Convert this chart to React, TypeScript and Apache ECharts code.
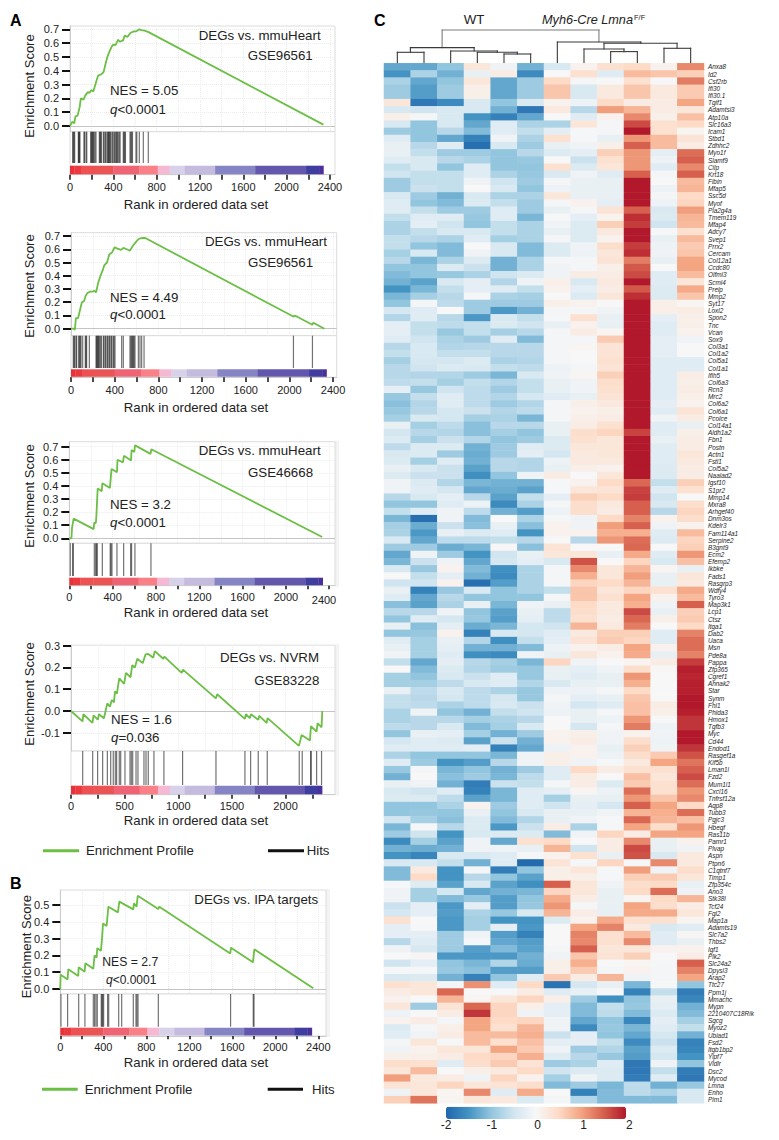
import React, { useEffect, useRef } from "react";
import * as echarts from "echarts";

const FONT = '"Liberation Sans", Arial, sans-serif';
const INK = "#222222";

// ---------- GSEA data ----------
const curveA1 = [[0,0],[20,0.03],[40,0.02],[50,0.07],[70,0.075],[90,0.14],[100,0.2],[125,0.19],[140,0.22],[165,0.245],[180,0.24],[195,0.26],[215,0.25],[230,0.29],[245,0.33],[260,0.365],[290,0.375],[310,0.39],[325,0.44],[345,0.5],[365,0.54],[385,0.575],[400,0.59],[420,0.585],[445,0.625],[460,0.61],[490,0.62],[505,0.655],[530,0.645],[560,0.675],[590,0.685],[610,0.685],[640,0.7],[660,0.695],[690,0.69],[725,0.68],[2340,0.01]];
const hitsA1 = [25,30,37,43,77,82,86,92,129,134,148,155,191,197,203,209,215,222,231,240,271,277,283,290,308,315,326,333,345,352,357,363,369,376,388,395,406,413,422,430,437,445,455,463,492,498,505,512,554,561,569,577,609,617,640,677,723];
const curveA2 = [[0,0],[25,0],[35,-0.01],[45,0.08],[65,0.08],[85,0.15],[100,0.2],[120,0.21],[135,0.25],[150,0.27],[175,0.28],[195,0.28],[215,0.285],[230,0.275],[250,0.35],[270,0.4],[290,0.44],[305,0.48],[330,0.5],[350,0.56],[375,0.575],[400,0.615],[425,0.605],[460,0.595],[480,0.61],[510,0.6],[540,0.59],[565,0.625],[590,0.65],[610,0.67],[625,0.68],[650,0.685],[680,0.685],[2040,0.09],[2050,0.1],[2210,0.03],[2220,0.045],[2320,0]];
const hitsA2 = [21,28,34,46,52,70,78,85,92,107,131,137,143,168,229,235,241,247,253,260,272,278,296,302,314,320,333,339,351,357,369,375,388,395,403,464,479,540,548,556,563,571,578,586,617,632,647,669,2037,2211];
const curveA3 = [[0,0],[20,0],[25,0.08],[40,0.15],[225,0.07],[230,0.12],[245,0.115],[250,0.17],[262,0.38],[300,0.36],[305,0.42],[375,0.385],[390,0.53],[440,0.505],[445,0.6],[495,0.58],[505,0.63],[570,0.595],[575,0.675],[600,0.66],[607,0.71],[750,0.645],[757,0.68],[2335,0.01]];
const hitsA3 = [9,31,37,231,243,252,258,305,378,385,394,440,502,566,575,606,754];
const curveA4 = [[0,0],[108,-0.048],[115,-0.015],[200,-0.055],[210,-0.02],[250,-0.04],[260,-0.015],[307,-0.033],[338,0.035],[363,0.02],[380,0.05],[400,0.04],[410,0.09],[428,0.08],[440,0.12],[450,0.15],[495,0.125],[512,0.175],[555,0.155],[570,0.21],[595,0.2],[618,0.24],[668,0.22],[695,0.26],[720,0.262],[767,0.245],[780,0.275],[860,0.24],[870,0.25],[1031,0.175],[1043,0.19],[1350,0.058],[1363,0.077],[1620,-0.036],[1630,-0.015],[1667,-0.033],[1677,-0.015],[1745,-0.04],[1755,-0.022],[1823,-0.055],[1832,-0.033],[2124,-0.16],[2133,-0.143],[2149,-0.11],[2227,-0.135],[2236,-0.07],[2289,-0.095],[2298,-0.056],[2335,-0.075],[2342,0]];
const hitsA4 = [109,202,248,295,339,370,394,413,425,450,463,503,550,562,575,606,624,680,699,720,773,866,1040,1351,1621,1674,1745,1829,2127,2155,2233,2239,2289,2335];
const curveB = [[0,0],[3,0.085],[68,0.057],[74,0.117],[167,0.077],[171,0.129],[226,0.103],[233,0.153],[307,0.12],[313,0.163],[319,0.2],[338,0.187],[344,0.243],[378,0.228],[388,0.3],[397,0.39],[431,0.375],[447,0.49],[536,0.456],[549,0.52],[679,0.474],[685,0.51],[710,0.49],[720,0.555],[911,0.476],[921,0.49],[1581,0.212],[1588,0.246],[1792,0.159],[1805,0.236],[2353,0.004]];
const hitsB = [6,68,171,229,307,319,332,344,381,388,394,403,440,450,543,571,679,704,713,723,912,1584,1795,1802];

const bandRanks = [[0,40],[40,100],[100,220],[220,400],[400,640],[640,810],[810,920],[920,1060],[1060,1340],[1340,1710],[1710,2180],[2180,2300],[2300,2340]];
const bandColors = ["#e8323a","#ea3a40","#ee5153","#ea5454","#ee6474","#f88086","#f6b9d3","#d7d2ea","#c5bbdf","#8585c5","#6357ad","#3f3da0","#4c309a"];

const ticks7 = [0,0.1,0.2,0.3,0.4,0.5,0.6,0.7];
const ticks4 = [-0.1,0,0.1,0.2,0.3];
const ticks5 = [0,0.1,0.2,0.3,0.4,0.5];
const xTicks400 = [0,200,400,600,800,1000,1200,1400,1600,1800,2000,2200,2400];
const xLabels400 = [0,400,800,1200,1600,2000,2400];
const xTicks250 = [0,250,500,750,1000,1250,1500,1750,2000,2250];
const xLabels500 = [0,500,1000,1500,2000];

interface Panel {
  curve: number[][]; hits: number[]; yTicks: number[]; xTicks: number[]; xLabels: number[];
  x0: number; pxPerRank: number; right: number; top: number; zeroY: number; pxPerUnit: number;
  bottom: number; hitEnd: number; bandTop: number; axisY: number;
  labelY: number; titleY: number; yTitleX: number; yTitleY: number; titleX: number;
  texts: { t: string; x: number; y: number; rich?: boolean; s?: number }[];
  extra2400?: number[]; strip?: boolean;
}

const panels: Panel[] = [
  { curve: curveA1, hits: hitsA1, yTicks: ticks7, xTicks: xTicks400, xLabels: xLabels400,
    x0: 70, pxPerRank: 0.1083, right: 335, top: 26, zeroY: 126, pxPerUnit: 138.1, bottom: 131.7, hitEnd: 163, bandTop: 165.7, axisY: 174.7,
    labelY: 187.7, titleY: 204, yTitleX: 29, yTitleY: 86, titleX: 196,
    texts: [{ t: "DEGs vs. mmuHeart", x: 198.7, y: 35 }, { t: "GSE96561", x: 247.7, y: 55 }, { t: "NES = 5.05", x: 110, y: 90.7 }, { t: "{i|q}{n|<0.0001}", x: 110, y: 109.3, rich: true }] },
  { curve: curveA2, hits: hitsA2, yTicks: ticks7, xTicks: xTicks400, xLabels: xLabels400,
    x0: 71, pxPerRank: 0.1092, right: 336.7, top: 232.7, zeroY: 328.7, pxPerUnit: 132.4, bottom: 335.7, hitEnd: 368, bandTop: 369.3, axisY: 377.2,
    labelY: 390, titleY: 407, yTitleX: 29, yTitleY: 286, titleX: 196,
    texts: [{ t: "DEGs vs. mmuHeart", x: 205, y: 241.7 }, { t: "GSE96561", x: 248, y: 262.7 }, { t: "NES = 4.49", x: 110, y: 297.3 }, { t: "{i|q}{n|<0.0001}", x: 110, y: 314.3, rich: true }] },
  { curve: curveA3, hits: hitsA3, yTicks: ticks7, xTicks: xTicks400, xLabels: [0,400,800,1200,1600,2000], extra2400: [324, 600],
    x0: 69.3, pxPerRank: 0.1083, right: 335, top: 441.7, zeroY: 538.3, pxPerUnit: 130.9, bottom: 543.3, hitEnd: 576, bandTop: 577.7, axisY: 585.7,
    labelY: 597.3, titleY: 612.7, yTitleX: 29, yTitleY: 496, titleX: 196, strip: true,
    texts: [{ t: "DEGs vs. mmuHeart", x: 198.7, y: 450.7 }, { t: "GSE46668", x: 248, y: 472 }, { t: "NES = 3.2", x: 110, y: 504.7 }, { t: "{i|q}{n|<0.0001}", x: 110, y: 522.3, rich: true }] },
  { curve: curveA4, hits: hitsA4, yTicks: ticks4, xTicks: xTicks250, xLabels: xLabels500,
    x0: 71, pxPerRank: 0.1073, right: 335, top: 645.2, zeroY: 711, pxPerUnit: 217.7, bottom: 751, hitEnd: 785, bandTop: 785.7, axisY: 794.7,
    labelY: 806.7, titleY: 820, yTitleX: 29, yTitleY: 694, titleX: 196, strip: true,
    texts: [{ t: "DEGs vs. NVRM", x: 220, y: 657.7 }, { t: "GSE83228", x: 254.3, y: 680.7 }, { t: "NES = 1.6", x: 111, y: 719.3 }, { t: "{i|q}{n|=0.036}", x: 111, y: 737.3, rich: true }] },
  { curve: curveB, hits: hitsB, yTicks: ticks5, xTicks: xTicks400, xLabels: xLabels400,
    x0: 60.3, pxPerRank: 0.1075, right: 326, top: 890, zeroY: 989, pxPerUnit: 168, bottom: 994, hitEnd: 1026.7, bandTop: 1027.7, axisY: 1036,
    labelY: 1047.3, titleY: 1062.3, yTitleX: 26.7, yTitleY: 946.7, titleX: 196, strip: true,
    texts: [{ t: "DEGs vs. IPA targets", x: 194.3, y: 899.3 }, { t: "NES = 2.7", x: 102.3, y: 962, s: 12.2 }, { t: "{i|q}{n|<0.0001}", x: 106, y: 980, rich: true, s: 12 }] },
];

// ---------- Heatmap data ----------
const geneLabels = ["Anxa8","Id2","Csf2rb","Ifi30","Ifi30.1","Tgif1","Adamtsl3","Atp10a","Slc16a3","Icam1","Stbd1","Zdhhc2","Myo1f","Slamf9","Cilp","Krt18","Fibin","Mfap5","Ssc5d","Myof","Pla2g4a","Tmem119","Mfap4","Adcy7","Svep1","Prrx2","Cercam","Col12a1","Ccdc80","Olfml3","Scml4","Prelp","Mmp2","Syt17","Loxl2","Spon2","Tnc","Vcan","Sox9","Col3a1","Col1a2","Col5a1","Col1a1","Ifih5","Col6a3","Rcn3","Mrc2","Col6a2","Col6a1","Pcolce","Col14a1","Aldh1a2","Fbn1","Postn","Actn1","Fstl1","Col5a2","Naalad2","Igsf10","S1pr2","Mmp14","Mxra8","Arhgef40","Dnm3os","Kdelr3","Fam114a1","Serpine2","B3gnt9","Ecm2","Efemp2","Ikbke","Fads1","Rasgrp3","Wdfy4","Tyro3","Map3k1","Lcp1","Ctsz","Itga1","Dab2","Uaca","Msn","Pde8a","Pappa","Zfp365","Cgref1","Ahnak2","Star","Synm","Fhl1","Phlda3","Hmox1","Tgfb3","Myc","Cd44","Endod1","Rasgef1a","Kif5b","Lman1l","Fzd2","Mum1l1","Cxcl16","Tnfrsf12a","Aqp8","Tubb3","Pgjc3","Hbegf","Ras11b","Pamr1","Plvap","Aspn","Ptpn6","C1qtnf7","Timp1","Zfp354c","Ano3","Stk38l","Tcf24","Fgl2","Map1a","Adamts19","Slc7a2","Thbs2","Igf1","Plk2","Slc24a2","Dpysl3","Arap2","Ttc27","Ppm1j","Mmachc","Mypn","2210407C18Rik","Sgcg","Myoz2","Ubiad1","Fsd2","Itgb1bp2","Yipf7","Vldlr","Dsc2","Mycod","Lmna","Enho","Pim1"];
const sampleLabels = ["WT1","WT2","WT3","WT4","WT5","WT6","KO1","KO2","KO3","KO4","KO5","KO6"];
const heatRows = [
[-1.3,-1.3,-1,0.3,-0.1,-1.2,-0.4,0.1,0.4,0.5,0.1,1.2],
[-1.5,-0.8,-1.2,-0.2,0.2,-1.6,0,0.4,-0.3,0.8,0.7,0.6],
[-0.8,-1.3,-1,0.3,-1.3,-0.9,0.5,-0.05,0,0.4,0,1.3],
[-0.9,-1.4,-0.9,0.15,-1.3,-0.9,0.7,-0.4,0.25,0.7,0.25,0.65],
[-0.9,-1.4,-0.9,0.15,-1.3,-0.9,0.7,-0.4,0.25,0.7,0.25,0.65],
[0.3,-1.8,-1.6,-0.4,-1,-0.4,0.1,-0.15,0.5,0.2,0.2,1],
[-0.4,-0.5,-0.4,-0.4,-1.2,-1.8,0.25,-0.7,1.05,0.85,0.2,0.3],
[0.15,-0.05,-0.4,-1.5,-1.7,-1.3,0,-0.3,0.1,1.2,0.15,0.75],
[-0.4,-1,-0.4,-1.3,-0.3,-0.8,-0.8,0.3,-0.05,1.65,0.4,0.5],
[-0.9,-1,-0.7,-1.1,-0.3,-0.6,-0.25,-0.02,-0.05,2,0.4,0.05],
[-0.3,-1,-1.3,-1.7,-0.1,-0.8,0.4,-0.02,-0.2,1.1,0.8,0.35],
[-0.2,-0.7,-0.3,-1.9,-0.4,-0.9,-0.2,-0.1,0.15,1.5,0.8,0.2],
[-0.2,-0.6,-0.9,-0.9,-1,-0.7,-0.35,-0.25,0.6,1.1,-0.25,1.4],
[-0.3,-0.4,-0.7,-0.8,-1,-0.95,0,-0.55,0.4,1.1,-0.15,1.5],
[-0.6,-0.4,-1,-0.3,-1,-1,0.4,-0.35,0.3,1.1,-0.3,1.2],
[-0.5,-0.6,-0.6,-0.3,-0.8,-0.95,-0.4,-0.1,-0.3,1.5,-0.05,1.5],
[-0.9,-0.6,-0.6,-0.1,-0.5,-0.9,-0.05,-0.2,-0.2,2,0,0.8],
[-0.9,-0.55,-0.6,0,-0.4,-1,-0.15,-0.2,-0.2,2,-0.15,0.85],
[-0.4,-0.9,-1.2,-0.4,-0.8,-0.8,0.3,-0.2,-0.2,2,-0.05,0.5],
[-0.3,-1,-1.1,-0.35,-0.6,-0.9,-0.05,0.1,-0.25,2,-0.15,0.55],
[-0.3,-0.6,-0.9,-0.9,-0.3,-0.9,-0.2,-0.05,0.35,1.5,-0.4,1.05],
[-0.6,-0.3,-0.3,-0.95,-0.3,-1.15,-0.02,-0.25,0.08,1.85,-0.35,0.85],
[-0.8,-0.25,-0.5,-1,-0.6,-0.8,-0.1,-0.35,0.6,1.75,-0.5,0.8],
[-0.8,-0.6,-0.4,-0.4,-0.6,-0.8,-0.2,-0.35,0.25,2,-0.02,0.4],
[-0.6,-0.7,-0.8,-0.3,-0.85,-0.8,-0.05,-0.35,0.1,2,-0.2,0.8],
[-0.6,-1,-1.1,0,-0.4,-1.1,-0.35,-0.1,0.45,1.75,-0.15,0.65],
[-0.85,-0.4,-1.1,-0.1,-0.4,-1.1,-0.35,-0.15,0.3,1.85,-0.1,0.7],
[-0.7,-1.15,-0.8,-0.35,-1.2,-0.8,-0.05,-0.05,0.35,1.3,-0.2,1],
[-1,-1,-0.35,-0.55,-1.2,-0.8,-0.1,-0.05,0.15,1.55,0,1],
[-1.1,-1,-0.95,-0.8,-0.5,-0.35,-0.1,0.2,0.2,1.65,-0.3,0.8],
[-1.2,-1.35,-0.4,-0.25,-0.75,-0.1,0.15,-0.4,0.25,2,-0.3,0.3],
[-1.5,-1.15,-0.6,-0.25,-0.3,-0.6,0.1,-0.25,0.2,1.55,-0.35,0.95],
[-1.15,-0.85,-0.7,-0.03,-0.8,-0.85,0,-0.35,0.3,1.85,-0.35,0.7],
[-1,-0.05,-0.65,-0.9,-0.9,-0.9,0.15,0.1,0,2,0.15,0.05],
[-0.45,-0.3,0,-0.9,-1.45,-1.2,-0.05,-0.05,-0.1,2,0.15,0.2],
[-0.75,-0.3,-0.7,-1.45,-0.4,-0.6,-0.02,0.4,-0.2,2,-0.25,0.15],
[-0.25,-0.6,-0.65,-0.6,-0.35,-0.5,-0.2,0.1,-0.2,2,-0.3,0.15],
[-0.25,-0.6,-0.95,-0.6,-0.85,-0.7,-0.05,0.2,0.05,2,-0.3,0.1],
[-0.3,-0.5,-0.8,-0.9,-0.3,-1.1,-0.05,-0.05,0.65,2,-0.25,-0.1],
[-0.7,-0.4,-0.75,-0.7,-0.7,-0.7,-0.05,0.05,0.35,2,-0.25,0],
[-0.6,-0.4,-0.6,-0.6,-0.7,-0.7,-0.05,0,0.35,2,-0.25,0],
[-0.85,-0.45,-0.45,-0.35,-0.8,-0.75,-0.05,0,0.4,2,-0.3,-0.3],
[-0.7,-0.5,-0.35,-0.4,-0.6,-0.65,-0.15,-0.05,0.35,2,-0.3,-0.3],
[-0.7,-0.75,-0.75,-0.9,-1.15,-0.4,-0.1,0.05,0.6,2,-0.3,0.2],
[-0.65,-0.6,-0.85,-0.6,-0.75,-0.6,-0.2,-0.1,0.45,2,-0.3,0.15],
[-0.25,-0.95,-0.5,-0.65,-0.9,-0.6,-0.2,-0.1,0.4,2,-0.3,0.2],
[-0.95,-0.6,-0.3,-0.65,-0.75,-0.45,-0.3,-0.2,0.35,2,-0.3,0.15],
[-1.05,-0.75,-0.3,-0.65,-0.9,-0.75,-0.05,0.15,0.25,2,-0.25,0.1],
[-0.95,-0.7,-0.45,-0.55,-0.75,-0.65,-0.05,0.1,0.15,2,-0.3,0.35],
[-0.85,-0.4,-0.45,-0.85,-0.8,-1.15,-0.05,0.15,0.2,2,-0.1,0.2],
[-0.2,-0.85,-0.65,-1.05,-0.7,-0.7,-0.2,0.2,0.4,2,-0.3,-0.2],
[-0.45,-0.7,-0.75,-1.05,-0.85,-1,-0.2,0.45,0.55,1.7,-0.3,0.15],
[-0.35,-0.85,-0.55,-0.75,-1,-0.9,-0.35,0.4,0.3,2,-0.2,0.2],
[-0.65,-0.35,-0.35,-1.2,-0.9,-0.3,-0.35,0.3,0.3,2,-0.3,0.2],
[-0.4,-0.35,-0.9,-1.25,-0.9,-0.25,-0.45,0.25,0.3,2,-0.3,0.3],
[-0.35,-0.85,-0.3,-1.2,-0.7,-0.75,-0.15,0.25,0.25,2,-0.3,0.25],
[-0.2,-0.4,-0.55,-1.35,-0.7,-0.75,-0.2,0.15,0.1,2,-0.35,0.2],
[-0.35,-0.55,-0.55,-1.55,-1,-0.1,0.2,0,0.3,2,-0.35,0.2],
[-0.1,-0.35,-0.75,-1.15,-1.2,-1.2,-0.03,0.1,0.5,1.45,-0.6,0.6],
[-0.1,-0.3,-0.45,-1.3,-1.25,-1.35,-0.03,0.3,0.35,1.7,-0.3,0.4],
[-0.7,-0.4,-0.25,-0.7,-1.35,-0.6,-0.25,0.6,0.5,1.75,-0.5,0],
[-1,-1,-0.3,-0.15,-1.6,-0.8,-0.05,0.45,0.25,1.5,-0.4,0.45],
[-0.6,-0.3,-0.1,-0.65,-1.2,-1.4,-0.15,0.45,0.2,1.5,-0.7,0.55],
[-1.15,-1.9,-0.1,-1.1,0,-0.8,-0.05,-0.1,0.5,1.25,0.1,0.45],
[-0.85,-1.25,-0.55,-1.05,-0.2,-1.05,0.1,-0.1,1.05,1.5,-0.1,0.1],
[-0.8,-1.45,-0.2,-0.35,-0.3,-1.5,0.1,0.1,0.9,0.9,-0.3,0.8],
[-0.4,-1.3,-0.65,-0.65,-0.6,-0.7,0,-0.7,1.1,1.4,-0.35,0.55],
[-0.9,-0.9,-1.25,-1.15,0.02,-1.05,0.35,0,0,1.45,0,0.6],
[-1.3,-0.1,-0.9,-1.5,-0.5,-0.2,0.3,0.3,-0.2,0.95,-0.3,1.1],
[-1.15,-0.55,-0.1,-1.3,-0.45,-0.25,-0.4,1.6,0,0.55,-0.4,0.75],
[-0.4,-0.95,0.1,-1.1,-1.55,-0.8,-0.05,1.2,0.3,0.85,0.05,-0.2],
[0,-0.6,-0.25,-1.2,-1.6,-0.8,-0.05,0.9,0.3,1.05,-0.2,0.3],
[-0.5,-0.5,0.1,-1.9,-1.4,-0.8,-0.05,0.55,0.5,0.85,-0.2,0.25],
[-0.2,-1.7,-0.95,-0.4,-1,-0.8,-0.6,0.7,0.3,0.55,0.4,0.95],
[-0.3,-1.3,-0.7,-1,-1,-1,-0.05,0.7,0.4,1,0.1,0.8],
[-1.05,-1.35,-0.8,-0.2,-1.15,-0.1,-0.2,0.5,0.25,0.9,-0.1,1.5],
[-0.7,-0.7,-0.1,-1,-1.35,-0.2,-0.65,0.45,0.25,1.65,-0.2,0.6],
[-1,-0.3,-0.45,-0.95,-1.4,-0.25,-0.65,0.4,0.2,1.45,0.15,0.65],
[-0.2,-1.05,-0.25,-1.25,-1.15,-0.45,-0.5,0.85,0.25,1.3,0,0.5],
[-1,-0.95,0.1,-1.7,-0.4,-0.45,-0.3,0.25,0.6,0.6,-0.3,1.25],
[-0.3,-0.85,-0.2,-0.75,-1.55,-0.6,-0.25,0.35,0.65,0.55,-0.3,1.4],
[-0.2,-0.85,-0.25,-1.2,-1.2,-1.1,-0.15,0.1,0.2,1,0.1,1.4],
[-0.1,-0.85,-0.3,-1.55,-1.6,-0.1,-0.2,0.3,0.1,0.95,-0.2,1.25],
[-0.6,-1.3,-0.25,-0.7,-0.85,-1.15,0.55,-0.1,0,0.05,0.2,1.75],
[0,-1.1,-0.35,-0.75,-0.9,-0.95,-0.2,-0.25,-0.1,0.45,0.02,1.95],
[-0.85,-1,-0.4,-0.55,-0.3,-0.95,-0.2,-0.3,-0.2,1.1,0,1.9],
[-0.85,-0.85,-0.65,-0.4,-0.3,-0.75,-0.4,-0.2,-0.2,0.9,0,1.95],
[-0.2,-0.65,-0.4,-0.65,-0.8,-0.95,-0.15,-0.15,-0.05,0.5,0,1.95],
[-0.6,-0.7,-0.45,-0.65,-0.45,-0.95,-0.05,-0.25,-0.2,0.7,0,2],
[-0.6,-0.65,-0.8,-0.65,-0.4,-0.55,-0.1,-0.45,-0.3,0.75,0.2,2],
[-0.8,-0.1,-1,-1.2,-0.6,-0.5,-0.15,-0.2,-0.05,0.75,0.15,1.95],
[-0.8,-0.7,-0.7,-0.85,-0.8,-0.7,0,-0.2,-0.15,1.1,0,1.8],
[-0.65,-0.7,-0.4,-1.1,-0.85,-0.4,0,-0.45,-0.05,1.3,-0.15,1.8],
[-1,-0.2,-0.25,-0.85,-1.2,-0.9,0.1,0.15,-0.1,0.1,-0.1,2],
[-0.45,-0.3,-0.35,-1.35,-0.55,-1.2,0.1,0.2,-0.1,0.45,-0.15,2],
[-0.3,-0.3,-0.3,-0.25,-1.7,-1.3,-0.15,0.1,-0.2,0.6,-0.1,1.8],
[-0.8,-1,-1,-1,-1.15,-0.1,0.15,0.1,-0.15,0.45,0.65,1.6],
[-0.3,-0.9,-1.5,-1.4,-0.7,-0.1,0.15,-0.1,-0.03,0.25,1,1.35],
[-0.95,-0.05,-1.15,-1,-1.2,-0.9,-0.3,0.5,0.2,0.4,0.4,1.5],
[-1.2,0,-1.05,-0.9,-1.15,-0.65,-0.3,0.2,0,0.75,0.3,1.65],
[-0.2,-0.1,-1.2,-1.75,-0.55,-0.6,-0.05,0.2,-0.35,0.65,0.4,1.4],
[-0.4,-0.5,-0.3,-1.7,-1.15,-0.3,-0.25,0.05,-0.15,1.4,0.4,1.1],
[-0.35,-0.35,-0.65,-1.35,-1.15,-0.3,-0.85,-0.2,-0.2,1.1,0.7,1.2],
[-1,-1,-0.8,0.1,-0.9,-0.3,-0.5,-0.25,-0.45,1.5,1,0.5],
[-1,-0.95,-1,-0.2,-1,-0.4,-0.2,-0.2,-0.1,0.85,0.9,1.4],
[-0.5,-0.85,-1.05,-0.35,-1.1,-0.75,-0.2,-0.1,-0.03,1.45,0.85,0.75],
[-1.15,-0.02,-0.7,-0.35,-1.45,-0.55,0.2,-0.8,-0.02,1,0.45,1.1],
[-0.9,-0.5,-1.5,-0.4,-0.35,-0.35,-1.1,-0.1,0.55,0.2,1,1],
[-1.6,-0.85,-1.35,-0.1,-1.3,0.4,0.5,0,0.2,1.2,-0.2,0.1],
[-1.2,-1.25,-1.2,-0.1,-0.15,-0.2,0.85,-0.5,0.2,1.65,-0.2,-0.1],
[-1.5,-1.65,-0.4,-0.4,-0.3,-0.05,0.1,0.4,-0.2,1.6,-0.4,0.25],
[-0.4,-0.4,-0.6,-1.2,-0.3,-1.95,0.35,-0.03,0.55,-0.02,1.2,0.25],
[-1.1,0.25,-1.5,-0.05,-1.75,-1,0.15,0.3,-0.03,1.05,-0.1,0.45],
[-1.1,0.5,-1.5,-0.7,-1,-1.35,0.15,0.15,-0.03,0.6,0.65,0.3],
[-0.02,-0.3,-1.35,-0.4,-1.35,-1.55,1.5,0.3,-0.1,0.45,0.5,-0.2],
[-0.1,-0.85,-0.45,-1.3,-1.2,-1.15,0.55,0.3,-0.2,0.5,1.4,-0.1],
[-0.1,-0.85,-1.1,-0.95,-1.4,-1,0.95,0.2,-0.2,0.05,0.5,0.85],
[-0.55,-0.25,-1.45,-0.25,-1.4,-0.95,1.1,-0.05,-0.2,1,0.45,0.2],
[-0.45,-0.25,-1.4,-0.8,-0.95,-0.4,0.85,0.2,-0.2,0.95,0.95,0.3],
[0.4,0,-1.45,-0.85,-1.5,-1.5,-0.35,0.1,0.95,0.4,0.4,0.05],
[-0.25,-0.03,-1.45,-0.85,-0.25,-1.45,0,1,1.25,0.25,-0.4,-0.3],
[-0.25,-0.25,-0.9,-0.1,-1.4,-1.7,0,1.25,0.4,0.8,-0.3,0.03],
[-0.7,-0.3,-0.9,-0.03,-1.3,-1.4,0,1.2,0.4,1.2,-0.3,-0.2],
[-0.1,-0.4,-0.9,-1.4,-1.1,-1.35,-0.05,1.5,0.3,0.3,0.1,0.1],
[0,0.03,-1.45,-1.45,-1.45,-1.2,-0.1,0.7,0.35,0.6,0,0.2],
[-0.5,-0.25,-1,-1.15,-0.75,-1.25,0.15,0.9,0,0.05,-0.03,1.5],
[-0.03,-0.03,-0.95,-1.05,-1.4,-1.4,0.15,0.65,-0.05,0.1,-0.05,1.25],
[-0.4,-0.35,-1.2,-1.7,-1,-0.3,0.65,0.2,0.85,-0.1,-0.05,1],
[0.4,0.3,-0.05,1.15,-0.3,0.5,-1.85,-0.45,-0.2,-1.15,-0.02,-1],
[0.2,0.3,1.45,0,-0.02,0.2,-0.3,-0.2,-0.02,-1.7,-0.6,-1.75],
[0.1,0,0.85,0.05,0.3,0.55,0.15,-0.9,-1.55,-1,-0.2,-1.65],
[0.3,-0.9,0.35,1.45,0.55,0.15,-0.25,-1.1,-0.6,-0.95,-0.25,-1.2],
[-0.15,0,0.2,1.8,0.55,-0.1,-0.25,-1.1,-0.65,-1.1,-0.35,-1.1],
[0.1,0.2,-0.05,1,0.5,0.55,-0.1,-1.3,-1,-1.65,-0.25,-0.85],
[-0.35,-0.05,0.15,1,0.4,0.85,-0.1,-1.6,-0.95,-1.15,-0.3,-0.6],
[-0.3,-0.1,0.2,0.8,0.8,0.9,-0.55,-0.25,-1,-1.3,-0.45,-1.2],
[-0.05,0.3,-0.02,0.8,0.4,0.75,-0.25,-0.25,-0.6,-1.6,-0.55,-1.7],
[-0.1,0.1,0.3,0.3,1,0.65,-0.1,-0.9,-0.75,-1.35,-0.35,-1.65],
[0.15,0.15,0.2,0.5,0.55,0.9,-0.3,-0.7,-0.95,-1.4,-0.45,-1.5],
[0.45,0.4,-0.3,0.45,0.65,0.35,-0.9,-0.8,-0.3,-1.8,-0.1,-1],
[0.3,0.8,0,0.15,0.25,0.5,-0.5,-0.35,-0.35,-1.8,-0.6,-1.75],
[1.05,0.25,0.2,-0.1,0.55,0.1,-0.85,-0.1,-0.35,-1.75,-0.3,-1.8],
[0.35,0.3,0.55,0.3,0.35,0.45,-1.1,-0.9,-1.15,-0.65,-1.2,-0.95],
[-0.1,0.3,0.05,1.2,-0.3,0.95,0,-1.7,-1.1,-0.65,-0.8,-0.4],
[0.6,1.35,0.05,0.3,0.25,-0.35,-0.05,-0.75,-1.1,-1.1,-1.1,-0.4],
];
const heatPalette = ["#2166ac","#4393c3","#92c5de","#d1e5f0","#f7f7f7","#fddbc7","#f4a582","#d6604d","#b2182b"];
const colorbarTicks = [-2,-1,0,1,2];

// dendrogram segments: [x1, h1, x2, h2], x in column units, h in merge height
const dendroSegments = [
  [2.18,33.3,8.06,33.3],[2.18,33.3,2.18,15.7],[8.06,33.3,8.06,21.7],
  [0.99,15.7,3.38,15.7],[0.99,15.7,0.99,11],[3.38,15.7,3.38,12.3],
  [0.5,11,1.5,11],[0.5,11,0.5,0],[1.5,11,1.5,0],
  [2.5,12.3,4.25,12.3],[2.5,12.3,2.5,0],[4.25,12.3,4.25,11],
  [3.5,11,5,11],[3.5,11,3.5,0],[5,11,5,9.3],
  [4.5,9.3,5.5,9.3],[4.5,9.3,4.5,0],[5.5,9.3,5.5,0],
  [6.5,21.3,9.63,21.3],[6.5,21.3,6.5,0],[9.63,21.3,9.63,20],
  [8.25,20,10.99,20],[8.25,20,8.25,14.3],[10.99,20,10.99,15],
  [7.5,14.3,9,14.3],[7.5,14.3,7.5,0],[9,14.3,9,11.7],
  [8.5,11.7,9.5,11.7],[8.5,11.7,8.5,0],[9.5,11.7,9.5,0],
  [10.5,15,11.5,15],[10.5,15,10.5,0],[11.5,15,11.5,0],
];

function textEl(t: string, x: number, y: number, size: number, extra: any = {}, styleExtra: any = {}) {
  return {
    type: "text", x, y, silent: true, z: 20, ...extra,
    style: {
      text: t, fill: INK, font: `${size}px ${FONT}`,
      align: "left", textAlign: "left", verticalAlign: "middle", textVerticalAlign: "middle",
      ...styleExtra,
    },
  };
}

function buildOption() {
  const grid: any[] = [], xAxis: any[] = [], yAxis: any[] = [], series: any[] = [], graphic: any[] = [];

  panels.forEach((p) => {
    const w = p.right - p.x0;
    const xMax = w / p.pxPerRank;
    const upperH = p.bottom - p.top;
    const yMax = (p.zeroY - p.top) / p.pxPerUnit;
    const yMin = (p.zeroY - p.bottom) / p.pxPerUnit;
    const lowerH = p.axisY - p.bottom;
    const hitLow = (p.axisY - p.hitEnd) / lowerH;
    const bandHigh = (p.axisY - p.bandTop) / lowerH;
    const g1 = grid.length;

    grid.push({ left: p.x0, top: p.top, width: w, height: upperH, show: true, borderColor: "#dcdcdc", borderWidth: 1, backgroundColor: "#fff" });
    grid.push({ left: p.x0, top: p.bottom, width: w, height: lowerH, show: true, borderColor: "#dcdcdc", borderWidth: 1, backgroundColor: "#fff" });

    xAxis.push({
      gridIndex: g1, type: "value", min: 0, max: xMax, position: "bottom",
      axisLine: { show: false }, axisLabel: { show: false },
      axisTick: { show: false, customValues: p.xTicks },
      splitLine: { show: true, lineStyle: { color: "#ececec", type: "dotted", width: 1 } },
    });
    xAxis.push({
      gridIndex: g1 + 1, type: "value", min: 0, max: xMax, position: "bottom",
      axisLine: { show: true, lineStyle: { color: "#cccccc" } },
      axisTick: { show: true, customValues: p.xTicks, length: p.labelY - p.axisY - 8, lineStyle: { color: "#111", width: 1.5 } },
      axisLabel: { show: true, customValues: p.xLabels, color: INK, fontFamily: FONT, fontSize: 11, margin: p.labelY - p.axisY - 6, hideOverlap: false,
        formatter: (v: number) => String(Math.round(v)) },
      splitLine: { show: false },
    });
    yAxis.push({
      gridIndex: g1, type: "value", min: yMin, max: yMax,
      axisLine: { show: true, lineStyle: { color: "#cccccc" } },
      axisTick: { show: true, customValues: p.yTicks, length: 8, lineStyle: { color: "#111", width: 2 } },
      axisLabel: { show: true, customValues: p.yTicks, color: INK, fontFamily: FONT, fontSize: 11, margin: 11,
        formatter: (v: number) => Number(v).toFixed(1) },
      splitLine: { show: true, lineStyle: { color: "#ececec", type: "dotted", width: 1 } },
    });
    yAxis.push({ gridIndex: g1 + 1, type: "value", min: 0, max: 1, show: false, splitLine: { show: false } });

    series.push({
      type: "line", xAxisIndex: g1, yAxisIndex: g1, data: p.curve, showSymbol: false, symbol: "none",
      lineStyle: { color: "#6cbf45", width: 1.8 }, z: 5, silent: true,
      markLine: { silent: true, symbol: "none", label: { show: false }, animation: false,
        lineStyle: { color: "#c4c4c4", width: 1, type: "solid" }, data: [{ yAxis: 0 }] },
    });
    series.push({
      type: "custom", xAxisIndex: g1 + 1, yAxisIndex: g1 + 1, silent: true, clip: false,
      data: p.hits.map((r) => [r, 1]),
      renderItem: (_: any, api: any) => {
        const a = api.coord([api.value(0), 1]);
        const b = api.coord([api.value(0), hitLow]);
        return { type: "line", shape: { x1: a[0], y1: a[1], x2: b[0], y2: b[1] }, style: { stroke: "rgba(0,0,0,0.55)", lineWidth: 1.2 } };
      },
    });
    series.push({
      type: "custom", xAxisIndex: g1 + 1, yAxisIndex: g1 + 1, silent: true, clip: false,
      data: bandRanks.map((r, i) => [r[0], r[1], i]),
      renderItem: (_: any, api: any) => {
        const a = api.coord([api.value(0), bandHigh]);
        const b = api.coord([api.value(1), 0.01]);
        return { type: "rect", shape: { x: a[0], y: a[1], width: b[0] - a[0] + 0.3, height: b[1] - a[1] }, style: { fill: bandColors[api.value(2)] } };
      },
    });

    graphic.push(textEl("Enrichment Score", p.yTitleX, p.yTitleY, 13, { rotation: Math.PI / 2 }, { align: "center", textAlign: "center" }));
    graphic.push(textEl("Rank in ordered data set", p.titleX, p.titleY, 13.2, {}, { align: "center", textAlign: "center" }));
    p.texts.forEach((t) => {
      const size = t.s ?? 13.3;
      if (t.rich) {
        graphic.push(textEl(t.t, t.x, t.y, size, {}, {
          rich: {
            i: { fontStyle: "italic", fontFamily: FONT, fontSize: size, fill: INK },
            n: { fontFamily: FONT, fontSize: size, fill: INK },
          },
        }));
      } else {
        graphic.push(textEl(t.t, t.x, t.y, size));
      }
    });
    if (p.extra2400) {
      graphic.push(textEl("2400", p.extra2400[0], p.extra2400[1], 11, {}, { align: "center", textAlign: "center" }));
    }
    if (p.strip) {
      graphic.push({ type: "rect", z: -1, silent: true, shape: { x: p.right, y: p.top - 1, width: 4, height: p.axisY - p.top + 2 }, style: { fill: "#f3f3f3" } });
    }
  });

  // dendrogram
  const dg = grid.length;
  grid.push({ left: 384, top: 30, width: 320, height: 33.3, show: false });
  xAxis.push({ gridIndex: dg, type: "value", min: 0, max: 12, show: false, splitLine: { show: false } });
  yAxis.push({ gridIndex: dg, type: "value", min: 0, max: 33.3, show: false, splitLine: { show: false } });
  series.push({
    type: "custom", xAxisIndex: dg, yAxisIndex: dg, silent: true, clip: false,
    data: dendroSegments,
    renderItem: (params: any, api: any) => {
      const a = api.coord([api.value(0), api.value(1)]);
      const b = api.coord([api.value(2), api.value(3)]);
      const topLink = params.dataIndex < 3;
      return { type: "line", shape: { x1: a[0], y1: a[1], x2: b[0], y2: b[1] },
        style: { stroke: topLink ? "#7d7d7d" : "#3a3a3a", lineWidth: 1.1, lineCap: "square" } };
    },
  });

  // heatmap
  const hg = grid.length;
  grid.push({ left: 384, top: 63.3, width: 320, height: 1040, show: false });
  xAxis.push({ gridIndex: hg, type: "category", data: sampleLabels, show: false, splitArea: { show: false }, splitLine: { show: false } });
  yAxis.push({
    gridIndex: hg, type: "category", data: geneLabels, inverse: true, position: "right",
    axisLine: { show: false }, axisTick: { show: false }, splitLine: { show: false }, splitArea: { show: false },
    axisLabel: { show: true, interval: 0, fontSize: 6.4, fontStyle: "italic", fontFamily: FONT, color: INK, margin: 4 },
  });
  const heatIndex = series.length;
  const heatData: number[][] = [];
  heatRows.forEach((row, y) => row.forEach((v, x) => heatData.push([x, y, v])));
  series.push({
    type: "heatmap", xAxisIndex: hg, yAxisIndex: hg, data: heatData, silent: true, progressive: 0,
    itemStyle: { borderWidth: 0 }, emphasis: { disabled: true },
  });

  // panel letters, heading, colourbar labels, legends
  graphic.push(textEl("A", 10, 20, 16, {}, { font: `bold 16px ${FONT}`, fill: "#000" }));
  graphic.push(textEl("B", 10, 883, 16, {}, { font: `bold 16px ${FONT}`, fill: "#000" }));
  graphic.push(textEl("C", 374, 20, 16, {}, { font: `bold 16px ${FONT}`, fill: "#000" }));
  graphic.push(textEl("WT", 474, 19.5, 13.3, {}, { align: "center", textAlign: "center" }));
  graphic.push(textEl("Myh6-Cre Lmna", 542, 20, 12.7, {}, { font: `italic 12.7px ${FONT}` }));
  graphic.push(textEl("F/F", 634, 17, 7.5));
  colorbarTicks.forEach((v) => {
    graphic.push(textEl(String(v), 537.7 + v * 45.8, 1125, 12, {}, { align: "center", textAlign: "center" }));
  });
  [[43, 79, 850.7, 268, 304, 86, 306.7], [42, 77.7, 1089.3, 267.7, 303, 84.7, 312]].forEach((l) => {
    graphic.push({ type: "line", silent: true, shape: { x1: l[0], y1: l[2], x2: l[1], y2: l[2] }, style: { stroke: "#6cbf45", lineWidth: 3 } });
    graphic.push({ type: "line", silent: true, shape: { x1: l[3], y1: l[2], x2: l[4], y2: l[2] }, style: { stroke: "#111", lineWidth: 3 } });
    graphic.push(textEl("Enrichment Profile", l[5], l[2], 13.2));
    graphic.push(textEl("Hits", l[6], l[2], 13.2));
  });

  return {
    animation: false,
    backgroundColor: "#fff",
    grid, xAxis, yAxis, series,
    graphic: { elements: graphic },
    visualMap: [{
      type: "continuous", seriesIndex: heatIndex, min: -2, max: 2, dimension: 2,
      orient: "horizontal", left: 446, top: 1106.7, itemWidth: 12.3, itemHeight: 180, padding: 0,
      calculable: false, showLabel: false, text: null, hoverLink: false, realtime: false,
      inRange: { color: heatPalette }, textStyle: { fontSize: 0, color: "transparent" },
    }],
  };
}

export default function App() {
  const ref = useRef<HTMLDivElement>(null);
  useEffect(() => {
    document.body.style.margin = "0";
    const chart = echarts.init(ref.current!, undefined, { renderer: "svg", width: 779, height: 1140 });
    chart.setOption(buildOption() as any);
    return () => chart.dispose();
  }, []);
  return <div ref={ref} style={{ width: 779, height: 1140 }} />;
}
